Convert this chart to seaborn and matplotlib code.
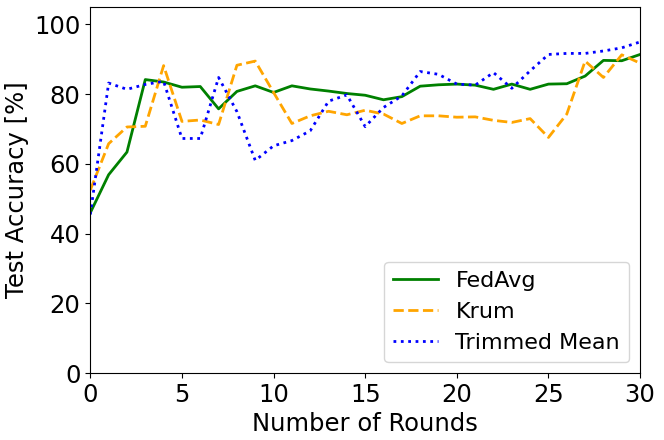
import pandas as pd
import seaborn as sns
import matplotlib
matplotlib.use("Agg")
import matplotlib.pyplot as plt

rounds = list(range(31))

# valores
fedavg = [46.0, 56.9, 63.4, 84.2, 83.5, 82.0, 82.2, 75.8, 80.8, 82.4, 80.5,
          82.4, 81.5, 80.9, 80.2, 79.7, 78.4, 79.3, 82.3, 82.7, 82.9,
          82.6, 81.4, 82.9, 81.4, 82.9, 83.0, 85.2, 89.7, 89.6, 91.4]
krum = [52.5, 65.8, 70.6, 70.8, 88.2, 72.2, 72.6, 71.3, 88.3, 89.5, 80.5,
        71.6, 73.8, 75.1, 74.1, 75.4, 74.3, 71.6, 73.8, 73.8, 73.4,
        73.5, 72.5, 71.9, 73.0, 67.6, 74.3, 89.5, 84.8, 91.3, 88.9]
trimmed = [45.5, 83.2, 81.4, 82.8, 83.7, 67.3, 67.3, 84.8, 75.0, 61.0, 65.2,
           66.7, 69.5, 78.0, 79.8, 70.7, 76.2, 79.5, 86.5, 85.7, 82.9,
           82.6, 86.2, 81.7, 86.7, 91.4, 91.7, 91.7, 92.4, 93.3, 95.0]

tabela = pd.DataFrame({"Rodada": rounds, "FedAvg": fedavg,
                       "Krum": krum, "Trimmed Mean": trimmed})

fig, ax = plt.subplots(figsize=(6.64, 4.4), dpi=100)
sns.lineplot(data=tabela, x="Rodada", y="FedAvg", color="green",
             linestyle="-", linewidth=2, label="FedAvg", ax=ax)
sns.lineplot(data=tabela, x="Rodada", y="Krum", color="orange",
             linestyle="--", linewidth=2, label="Krum", ax=ax)
sns.lineplot(data=tabela, x="Rodada", y="Trimmed Mean", color="blue",
             linestyle=":", linewidth=2, label="Trimmed Mean", ax=ax)

ax.set_xlim(0, 30)
ax.set_ylim(0, 105)
ax.set_xticks([0, 5, 10, 15, 20, 25, 30])
ax.set_yticks([0, 20, 40, 60, 80, 100])
ax.set_xlabel("Number of Rounds", fontsize=17.5)
ax.set_ylabel("Test Accuracy [%]", fontsize=17.5)
ax.tick_params(labelsize=17.5)
ax.legend(loc="lower right", fontsize=16)

plt.subplots_adjust(left=0.136, right=0.964, top=0.984, bottom=0.152)
plt.savefig("out.png")
